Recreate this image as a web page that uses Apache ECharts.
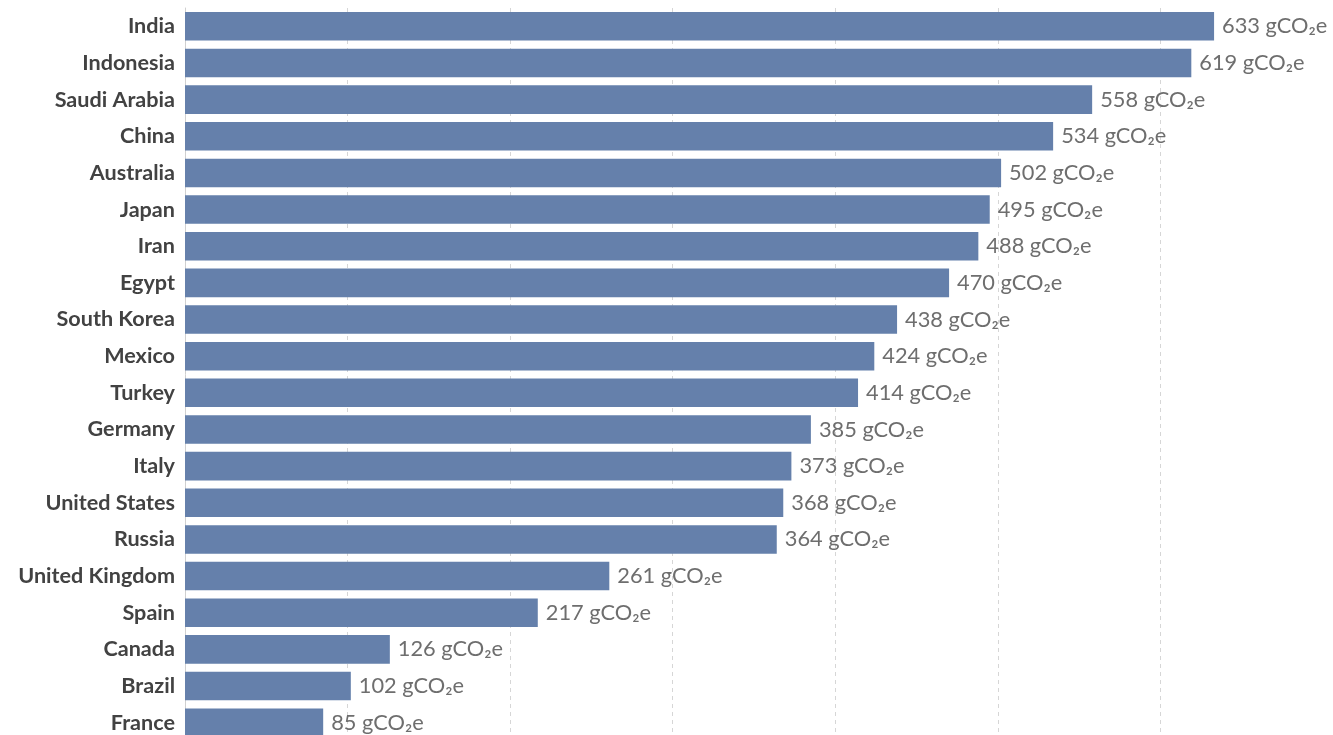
<!DOCTYPE html>
<html>
<head>
<meta charset="utf-8">
<script src="https://cdn.jsdelivr.net/npm/echarts@6/dist/echarts.min.js"></script>
<style>
html,body{margin:0;padding:0;background:#fff;overflow:hidden;}
#chart{width:1333px;height:741px;}
</style>
</head>
<body>
<div id="chart"></div>
<script>
const categories = ["India","Indonesia","Saudi Arabia","China","Australia","Japan","Iran","Egypt","South Korea","Mexico","Turkey","Germany","Italy","United States","Russia","United Kingdom","Spain","Canada","Brazil","France"];
const values = [633,619,558,534,502,495,488,470,438,424,414,385,373,368,364,261,217,126,102,85];
const unitLabel = " gCO\u2082e";

const chart = echarts.init(document.getElementById('chart'));
chart.setOption({
  animation: false,
  grid: { left: 185, top: 8, bottom: 0, right: 10, containLabel: false },
  xAxis: {
    type: 'value', min: 0, max: 700, interval: 100,
    axisLabel: { show: false }, axisLine: { show: false }, axisTick: { show: false },
    splitLine: { show: true, showMinLine: false, showMaxLine: false, lineStyle: { color: '#d6d6d6', type: [4, 4], width: 1 } }
  },
  yAxis: {
    type: 'category', data: categories, inverse: true,
    axisTick: { show: false },
    axisLine: { show: true, lineStyle: { color: '#d0d0d0', width: 1 } },
    axisLabel: { color: '#424242', fontSize: 21.6, fontWeight: 'bold', fontFamily: 'Lato', margin: 10 }
  },
  series: [{
    type: 'bar', data: values, barCategoryGap: '22%',
    itemStyle: { color: '#6580ab' },
    label: {
      show: true, position: 'right', distance: 8,
      color: '#6e6e6e', fontSize: 21.8, fontFamily: 'Lato',
      formatter: p => p.value + unitLabel
    }
  }]
});
</script>
</body>
</html>
